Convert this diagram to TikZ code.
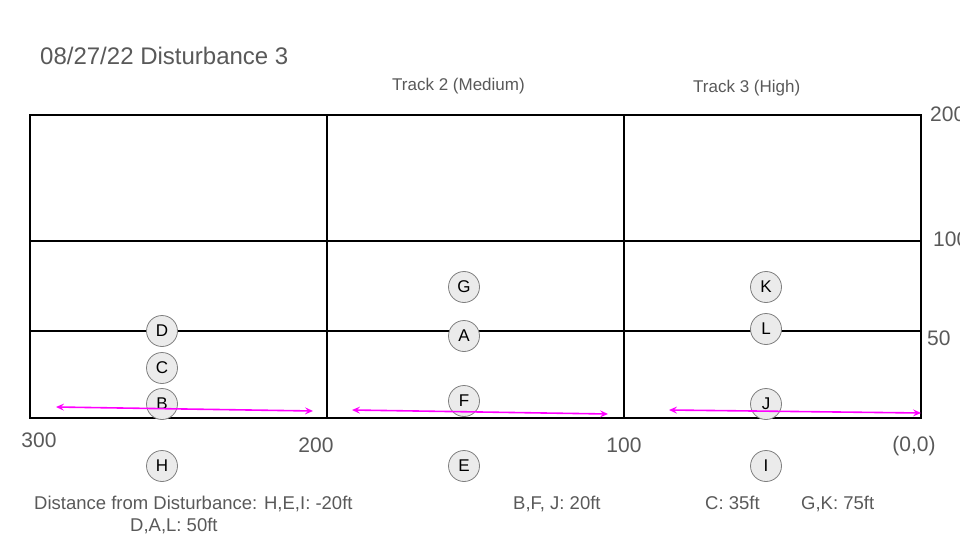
\documentclass[tikz,border=0pt]{standalone}
\usepackage{fontspec}
\setmainfont{Liberation Sans}
\usepackage{tikz}
\usetikzlibrary{arrows.meta}
\definecolor{labelgray}{HTML}{595959}
\definecolor{dotfill}{HTML}{EBEBEB}
\definecolor{dotedge}{HTML}{7F7F7F}
\definecolor{trackpink}{HTML}{FF00FF}

\tikzset{
  station/.style={circle,draw=dotedge,fill=dotfill,line width=0.8pt,
    minimum size=31pt,inner sep=0pt,font=\fontsize{17}{17}\selectfont},
  pinkarrow/.style={draw=trackpink,line width=1.6pt,
    {Stealth[length=8pt,width=7pt,inset=3pt]}-{Stealth[length=8pt,width=7pt,inset=3pt]}}
}

\begin{document}
\begin{tikzpicture}[x=1pt,y=-1pt]
  \useasboundingbox (0,0) rectangle (960,540);
  % the field grid
  \begin{scope}[line width=2.2pt]
    \draw (30,115) rectangle (921,418);
    \draw (327,115)--(327,418) (624,115)--(624,418);
    \draw (30,241)--(921,241) (30,331)--(921,331);
  \end{scope}
  \begin{scope}[text=labelgray,inner sep=0pt]
    \node[anchor=base west,font=\fontsize{24}{24}\selectfont] (title) at (40,65) {08/27/22 Disturbance 3};
    \node[anchor=base west,font=\fontsize{17}{17}\selectfont] (trk2) at (392,91) {Track 2 (Medium)};
    \node[anchor=base west,font=\fontsize{17}{17}\selectfont] (trk3) at (693,93) {Track 3 (High)};
  \end{scope}
  \begin{scope}[text=labelgray,inner sep=0pt,font=\fontsize{21}{21}\selectfont]
    \node[anchor=base] (x300) at (39,447) {300};
    \node[anchor=base] (x200) at (316,452) {200};
    \node[anchor=base] (x100) at (624,452) {100};
    \node[anchor=base] (x0) at (914,451) {(0,0)};
    \node[anchor=base west] (y200) at (930,122) {200};
    \node[anchor=base west] (y100) at (933,246) {100};
    \node[anchor=base west] (y50) at (927,345) {50};
  \end{scope}
  % sensor positions
  \foreach \nm/\xx/\yy in {D/162/331,C/162/368,B/162/404,H/162/466,
                           G/464/287,A/464/336,F/464/401,E/464/466,
                           K/766/287,L/766/329,J/766/404,I/766/466}
    \node[station] (\nm) at (\xx,\yy) {\nm};
  % track arrows
  \coordinate (t1w) at (56,407);  \coordinate (t1e) at (313,411);
  \coordinate (t2w) at (352,410); \coordinate (t2e) at (608,414);
  \coordinate (t3w) at (669,410); \coordinate (t3e) at (921,413);
  \draw[pinkarrow] (t1w)--(t1e);
  \draw[pinkarrow] (t2w)--(t2e);
  \draw[pinkarrow] (t3w)--(t3e);
  \begin{scope}[text=labelgray,inner sep=0pt,font=\fontsize{18.5}{18.5}\selectfont]
    \node[anchor=base west] (dist) at (34,509) {Distance from Disturbance: H,E,I: -20ft};
    \node[anchor=base west] (dal) at (130,531) {D,A,L: 50ft};
    \node[anchor=base west] (bfj) at (513,509) {B,F, J: 20ft};
    \node[anchor=base west] (cc) at (705,509) {C: 35ft};
    \node[anchor=base west] (gk) at (801,509) {G,K: 75ft};
  \end{scope}
\end{tikzpicture}
\end{document}
